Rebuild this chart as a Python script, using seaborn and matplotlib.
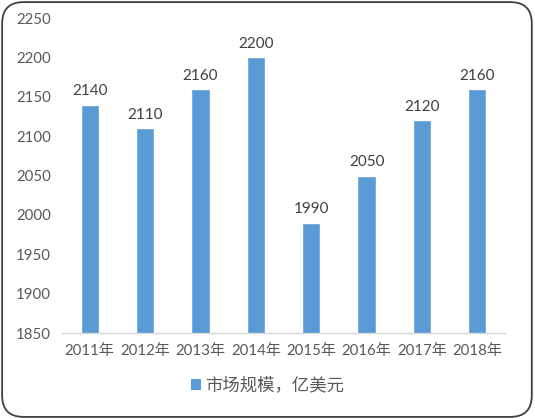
import matplotlib
matplotlib.use('Agg')
import matplotlib.pyplot as plt
import seaborn as sns
import pandas as pd
from matplotlib.patches import FancyBboxPatch, Patch
from matplotlib.ticker import FixedLocator

years = ['2011年', '2012年', '2013年', '2014年', '2015年', '2016年', '2017年', '2018年']
values = [2140, 2110, 2160, 2200, 1990, 2050, 2120, 2160]
series_name = '市场规模，亿美元'

sns.set_style('white')
plt.rcParams['font.family'] = ['Lato', 'Noto Sans CJK SC', 'DejaVu Sans']

df = pd.DataFrame({'year': years, 'value': values})

fig = plt.figure(figsize=(5.35, 4.19), dpi=100)
ax = fig.add_axes([62/535, 1-333/419, 443/535, 315/419])

bar_color = '#5B9BD5'
sns.barplot(x='year', y='value', data=df, color=bar_color, width=0.33, ax=ax, saturation=1)

ax.set_ylim(1850, 2250)
ax.set_yticks(range(1850, 2251, 50))
ax.set_xlim(-0.5, len(years) - 0.5)
ax.set_xlabel('')
ax.set_ylabel('')

for i, v in enumerate(values):
    ax.text(i, v + 8, str(v), ha='center', va='bottom', fontsize=11, color='#404040')

for s in ['top', 'right', 'left']:
    ax.spines[s].set_visible(False)
ax.spines['bottom'].set_color('#D9D9D9')
ax.spines['bottom'].set_linewidth(1)

ax.tick_params(axis='y', length=0, labelsize=10.8, labelcolor='#595959', pad=8)
ax.tick_params(axis='x', which='major', length=0, labelsize=10.8, labelcolor='#595959', pad=8)
ax.xaxis.set_minor_locator(FixedLocator([i - 0.5 for i in range(len(years) + 1)]))
ax.tick_params(axis='x', which='minor', length=5, color='#D9D9D9', width=1)

handle = Patch(facecolor=bar_color, edgecolor='none')
fig.legend([handle], [series_name], loc='center', bbox_to_anchor=(0.5, 1-385/419),
           frameon=False, fontsize=12.5, handlelength=0.6, handleheight=0.6,
           handletextpad=0.25, labelcolor='#595959')

frame = FancyBboxPatch((0.004, 0.005), 0.99, 0.99, boxstyle='round,pad=0,rounding_size=0.04',
                       transform=fig.transFigure, facecolor='none', edgecolor='#404040',
                       linewidth=1.3, mutation_aspect=535/419)
fig.patches.append(frame)

fig.savefig('out.png', dpi=100)
